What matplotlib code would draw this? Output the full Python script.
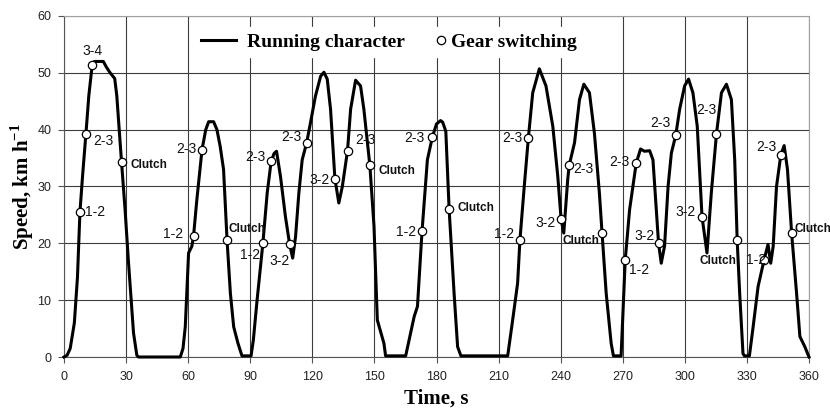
import matplotlib
matplotlib.use("Agg")
import matplotlib.pyplot as plt
from matplotlib.lines import Line2D

plt.rcParams['mathtext.fontset'] = 'custom'
plt.rcParams['mathtext.bf'] = 'Liberation Serif:bold'
plt.rcParams['mathtext.rm'] = 'Liberation Serif'

# running character (speed trace)
time_s = [0, 1.5, 3, 5, 6.5, 7.7, 9, 10.6, 12, 13.6, 14.7, 19, 20.5, 22.3, 24.5, 25.5,
          27.8, 29.5, 31.1, 33.6, 35.2, 36, 56.2, 57.5, 58.6, 60.2, 61.8, 62.6, 64.2,
          66.7, 68.5, 69.9, 72.3, 73.9, 75.5, 77.1, 78.8, 80.4, 82, 84, 86, 90.4, 91.5,
          93.3, 96.1, 98.2, 100.1, 101.5, 102.7, 104.6, 107, 109, 110.5, 111.9, 113.5,
          115.1, 117.2, 119.1, 121.5, 124, 125.6, 127.2, 128.8, 130.9, 132.8, 134.5,
          137, 138.5, 140.9, 143.3, 144.9, 147.8, 149.8, 151.4, 154.6, 155.4, 165.1,
          169.2, 170.8, 173, 175.6, 178, 180, 182, 183, 184.5, 186.1, 188.5, 190.2,
          191.8, 214.4, 216.8, 219.2, 220.3, 222.4, 224.4, 226.5, 229.7, 232.9, 236.2,
          238.6, 240.2, 241.5, 243.4, 244.1, 246.7, 249.1, 251.2, 253.9, 256.3, 258.7,
          260, 262, 264.4, 265.5, 269.2, 271.2, 273.3, 276.5, 278.6, 280.5, 283, 284.6,
          286.2, 287.3, 288.6, 290.2, 291.9, 293.5, 295.6, 297.5, 299.9, 301.8, 303.9,
          306, 308.3, 310.7, 312.8, 315.3, 317.7, 320.1, 322.5, 324.1, 325.3, 326.5,
          328.1, 328.8, 331.2, 333, 335.4, 338.3, 340.2, 341.5, 342.7, 344.3, 346.4,
          348, 349.6, 351.6, 354, 355.6, 358, 360]
speed_kmh = [0, 0.3, 1.5, 6, 14, 25.5, 32, 39.3, 46, 51.3, 52, 52, 51, 50, 49, 46,
             34.3, 26, 17, 4.2, 0.3, 0, 0, 1.5, 5.3, 18.3, 19.5, 21.3, 27.7,
             36.5, 40, 41.4, 41.4, 40, 37, 33, 20.5, 11.2, 5.3, 2.5, 0.2, 0.2, 3,
             10, 20, 28.9, 34.4, 35.8, 36.2, 31.8, 24.7, 19.9, 17.4, 21.2, 28.9,
             34.7, 37.6, 41.2, 45.9, 49.4, 50.1, 48.9, 43.6, 31.4, 27.1, 30,
             36.3, 43.6, 48.7, 47.7, 43.6, 33.7, 23, 6.5, 2.4, 0.2, 0.2,
             7.1, 8.9, 22.1, 34.7, 38.7, 41, 41.6, 41.3, 39.7, 26, 11.2, 1.8,
             0.2, 0.2, 6.5, 13, 20.5, 30, 38.6, 46.5, 50.7, 47.7, 40.6,
             31.8, 24.3, 21.8, 31.2, 33.7, 37.7, 45.3, 48, 46.5, 39.4, 28.9,
             21.8, 11.2, 2.4, 0.2, 0.2, 17.1, 25.9, 34.1, 36.6, 36.2, 36.3, 34.7,
             25.9, 20, 16.5, 19.5, 30, 35.9, 39, 43.6, 47.7, 48.9, 46.5,
             40.6, 24.7, 18.3, 28.9, 39.3, 46.5, 48, 45.3, 34.7, 20.5, 11.2,
             0.6, 0.2, 0.2, 5.3, 12.4, 17.1, 19.8, 16.5, 19.5, 30, 35.6,
             37.2, 33, 21.8, 11.2, 3.6, 1.8, 0]

# gear switching points
switch_t = [7.7, 10.6, 13.6, 27.8, 62.6, 66.7, 78.8, 96.1, 100.1, 109.0, 117.2,
            130.9, 137.0, 147.8, 173.0, 178.0, 186.1, 220.3, 224.4, 240.2, 244.1,
            260.0, 271.2, 276.5, 287.3, 295.6, 308.3, 315.3, 325.3, 338.3, 346.4, 351.6]
switch_v = [25.5, 39.3, 51.3, 34.3, 21.3, 36.5, 20.5, 20.0, 34.4, 19.9, 37.6,
            31.4, 36.3, 33.7, 22.1, 38.7, 26.0, 20.5, 38.6, 24.3, 33.7,
            21.8, 17.1, 34.1, 20.0, 39.0, 24.7, 39.3, 20.5, 17.1, 35.6, 21.8]
switch_lbl = ["1-2", "2-3", "3-4", "Clutch", "1-2", "2-3", "Clutch", "1-2", "2-3", "3-2", "2-3",
              "3-2", "2-3", "Clutch", "1-2", "2-3", "Clutch", "1-2", "2-3", "3-2", "2-3",
              "Clutch", "1-2", "2-3", "3-2", "2-3", "3-2", "2-3", "Clutch", "1-2", "2-3", "Clutch"]

# label placement (pixel offset from point, horizontal alignment)
lbl_off = [(5, 0, 'left'), (7, -7, 'left'), (0, 14, 'center'), (9, -3, 'left'),
           (-10, 2, 'right'), (-6, 1, 'right'), (1, 11, 'left'), (-3, -12, 'right'),
           (-6, 4, 'right'), (0, -17, 'right'), (-5, 6, 'right'), (-5, -1, 'right'),
           (8, 11, 'left'), (9, -6, 'left'), (-6, -1, 'right'), (-8, -1, 'right'),
           (8, 1, 'left'), (-6, 6, 'right'), (-6, 0, 'right'), (-5, -4, 'right'),
           (4, -4, 'left'), (-3, -8, 'right'), (4, -10, 'left'), (-7, 1, 'right'),
           (-4, 7, 'right'), (-5, 12, 'right'), (-6, 5, 'right'), (-20, 24, 'left'),
           (-1, -21, 'right'), (2, 0, 'right'), (-4, 8, 'right'), (3, 4, 'left')]

x_ticks = list(range(0, 361, 30))
y_ticks = list(range(0, 61, 10))

fig = plt.figure(figsize=(8.3, 4.11), dpi=100)
ax = fig.add_axes([64 / 830, 1 - 357 / 411, 745 / 830, 341 / 411])

ax.plot(time_s, speed_kmh, color='black', lw=2.2, solid_joinstyle='round',
        clip_on=False, zorder=3)
ax.plot(switch_t, switch_v, 'o', ms=6, mfc='white', mec='black', mew=0.9,
        clip_on=False, zorder=4)

for t, v, lbl, (dx, dy, ha) in zip(switch_t, switch_v, switch_lbl, lbl_off):
    if lbl == "Clutch":
        kw = dict(fontsize=8.5, fontweight='bold', family='Liberation Sans')
    else:
        kw = dict(fontsize=10, family='Liberation Sans')
    ax.annotate(lbl, (t, v), xytext=(dx, dy), textcoords='offset pixels',
                ha=ha, va='center', color='#111111', zorder=5, **kw)

ax.set_xlim(0, 360)
ax.set_ylim(0, 60)
ax.set_xticks(x_ticks)
ax.set_yticks(y_ticks)
ax.grid(True, color='#3c3c3c', lw=0.8)
ax.set_axisbelow(True)
for s in ['top', 'right']:
    ax.spines[s].set_color('#a0a0a0')
for s in ['left', 'bottom']:
    ax.spines[s].set_color('#555555')
ax.tick_params(axis='both', direction='out', length=4, width=0.8, color='#555555',
               labelsize=9, labelcolor='#222222')
ax.tick_params(axis='x', pad=6)
ax.tick_params(axis='y', pad=5)
for lab in ax.get_xticklabels() + ax.get_yticklabels():
    lab.set_family('Liberation Sans')

ax.set_xlabel('Time, s', fontsize=15, fontweight='bold', family='Liberation Serif',
              labelpad=4)
ax.set_ylabel(r'Speed, km h$^{\mathbf{-1}}$', fontsize=15, fontweight='bold',
              family='Liberation Serif', labelpad=1)

leg_font = dict(family='Liberation Serif', weight='bold', size=14)
h1 = Line2D([], [], color='black', lw=2.2)
h2 = Line2D([], [], ls='none', marker='o', ms=6, mfc='white', mec='black', mew=0.9)
leg1 = ax.legend([h1], ['Running character'], loc='center left',
                 bbox_to_anchor=(195 / 830, 1 - 42 / 411), bbox_transform=fig.transFigure,
                 prop=leg_font, handlelength=1.8, handletextpad=0.55, borderpad=0.3,
                 borderaxespad=0, frameon=True, fancybox=False, framealpha=1,
                 facecolor='white', edgecolor='white')
ax.add_artist(leg1)
ax.legend([h2], ['Gear switching'], loc='center left',
          bbox_to_anchor=(429 / 830, 1 - 42 / 411), bbox_transform=fig.transFigure,
          prop=leg_font, handlelength=0.6, handletextpad=0.22, borderpad=0.3,
          borderaxespad=0, frameon=True, fancybox=False, framealpha=1,
          facecolor='white', edgecolor='white')

fig.savefig('out.png', dpi=100)
